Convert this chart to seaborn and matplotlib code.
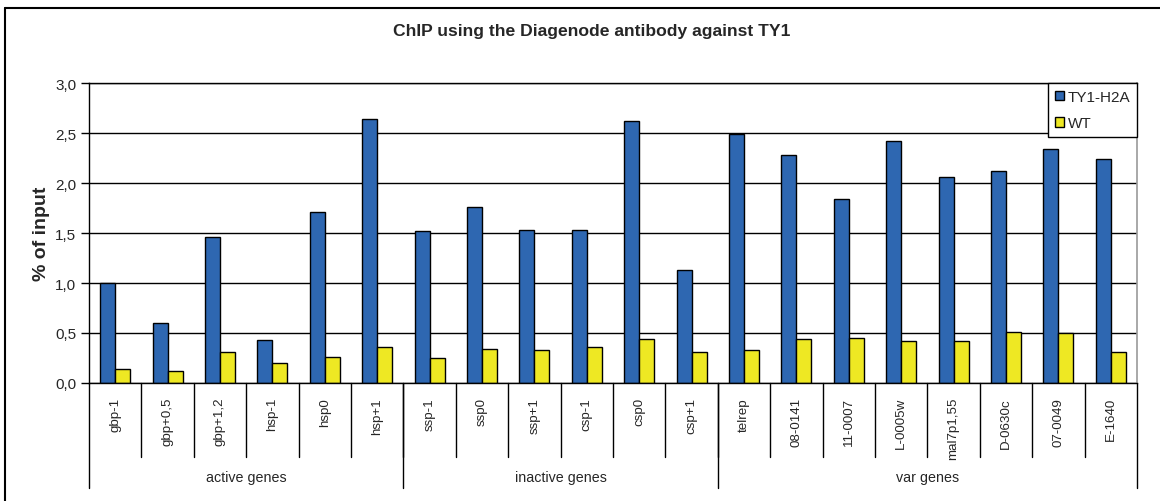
import matplotlib
matplotlib.use("Agg")
import matplotlib.pyplot as plt
import matplotlib.ticker as mticker
from matplotlib.lines import Line2D
from matplotlib.patches import Patch
import seaborn as sns
import pandas as pd

categories = ["gbp-1", "gbp+0,5", "gbp+1,2", "hsp-1", "hsp0", "hsp+1",
              "ssp-1", "ssp0", "ssp+1", "csp-1", "csp0", "csp+1",
              "telrep", "08-0141", "11-0007", "L-0005w", "mal7p1,55",
              "D-0630c", "07-0049", "E-1640"]
ty1_h2a = [1.00, 0.60, 1.46, 0.43, 1.71, 2.64,
           1.52, 1.76, 1.53, 1.53, 2.62, 1.13,
           2.49, 2.28, 1.84, 2.42, 2.06, 2.12, 2.34, 2.24]
wt = [0.14, 0.12, 0.31, 0.20, 0.26, 0.36,
      0.25, 0.34, 0.33, 0.36, 0.44, 0.31,
      0.33, 0.44, 0.45, 0.42, 0.42, 0.51, 0.50, 0.31]
groups = ["active genes", "inactive genes", "var genes"]
group_sizes = [6, 6, 8]
series = ["TY1-H2A", "WT"]
colors = ["#2E67B1", "#EEE823"]

df = pd.DataFrame({
    "gene": categories * 2,
    "value": ty1_h2a + wt,
    "series": [series[0]] * len(categories) + [series[1]] * len(categories),
})

sns.set_style("white")
plt.rcParams["font.family"] = ["Liberation Sans", "DejaVu Sans"]

W, H = 1160, 502
fig = plt.figure(figsize=(W / 100, H / 100), dpi=100)
L, R, T, B = 89, 1137, 84, 384
ax = fig.add_axes([L / W, 1 - B / H, (R - L) / W, (B - T) / H])

sns.barplot(data=df, x="gene", y="value", hue="series", order=categories,
            hue_order=series, palette=colors, width=0.573, saturation=1,
            edgecolor="black", linewidth=1.0, ax=ax, legend=False, errorbar=None)

ax.set_xlim(-0.5, len(categories) - 0.5)
ax.set_ylim(0, 3.0)
ax.yaxis.set_major_locator(mticker.MultipleLocator(0.5))
ax.yaxis.set_major_formatter(mticker.FuncFormatter(lambda v, p: f"{v:.1f}".replace(".", ",")))
ax.grid(axis="y", color="black", linewidth=1.0)
ax.set_axisbelow(True)
ax.tick_params(axis="y", which="major", left=True, length=6, width=1, color="black",
               labelsize=11, pad=3)
ax.tick_params(axis="x", bottom=False, labelbottom=False)
ax.set_xlabel("")
ax.set_ylabel("% of input", fontsize=14, fontweight="bold", labelpad=4)

for s in ["left", "bottom", "top"]:
    ax.spines[s].set_color("black")
    ax.spines[s].set_linewidth(1.0)
ax.spines["right"].set_color("#9a9a9a")
ax.spines["right"].set_linewidth(1.2)

trans = ax.get_xaxis_transform()
tick_y = -(458 - 384) / 300
grp_y = -(489 - 384) / 300
for i in range(1, len(categories)):
    ax.add_line(Line2D([i - 0.5, i - 0.5], [0, tick_y], transform=trans,
                       color="black", linewidth=1.0, clip_on=False))
bounds = [-0.5]
for gs in group_sizes:
    bounds.append(bounds[-1] + gs)
for b in bounds:
    ax.add_line(Line2D([b, b], [0, grp_y], transform=trans,
                       color="black", linewidth=1.0, clip_on=False))
for i, c in enumerate(categories):
    ax.text(i, -(398 - 384) / 300, c, transform=trans, rotation=90,
            ha="center", va="top", fontsize=9.6)
for g, a, b in zip(groups, bounds[:-1], bounds[1:]):
    ax.text((a + b) / 2, -(478 - 384) / 300, g, transform=trans,
            ha="center", va="center", fontsize=10.3)

handles = [Patch(facecolor=c, edgecolor="black", linewidth=1.0) for c in colors]
leg = ax.legend(handles, series, loc="upper right", bbox_to_anchor=(1.0, 1.0),
                fontsize=11, frameon=True, fancybox=False, framealpha=1,
                edgecolor="black", handlelength=0.6, handleheight=0.6,
                handletextpad=0.2, borderpad=0.45, labelspacing=0.8,
                borderaxespad=0)
leg.get_frame().set_linewidth(1.0)

fig.text(592 / W, 1 - 32 / H, "ChIP using the Diagenode antibody against TY1",
         ha="center", va="center", fontsize=12.6, fontweight="bold")

fig.add_artist(Line2D([5 / W, 5 / W], [0, 1 - 9 / H], transform=fig.transFigure,
                      color="black", linewidth=1.5))
fig.add_artist(Line2D([5 / W, 1], [1 - 9 / H, 1 - 9 / H], transform=fig.transFigure,
                      color="black", linewidth=1.5))

fig.savefig("out.png", dpi=100)
